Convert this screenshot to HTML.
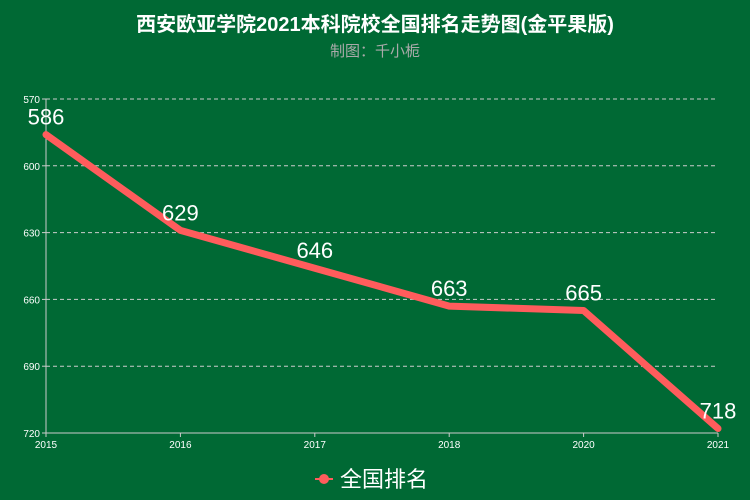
<!DOCTYPE html>
<html><head><meta charset="utf-8"><style>
body{margin:0;background:#006934;}
svg{display:block;font-family:"Liberation Sans","Noto Sans CJK SC",sans-serif;}
</style></head><body>
<svg id="chart" width="750" height="500">
<rect width="750" height="500" fill="#006934"/>
<text x="375" y="31" text-anchor="middle" fill="#fff" font-size="20" font-weight="bold">西安欧亚学院2021本科院校全国排名走势图(金平果版)</text>
<text x="375" y="56" text-anchor="middle" fill="#aaa" font-size="15">制图：千小栀</text>
<g id="grid"></g><g id="axes"></g><g id="series"></g>
<g>
<line x1="315" y1="479" x2="333" y2="479" stroke="#ff5c5c" stroke-width="2"/>
<circle cx="324" cy="479" r="5" fill="#ff5c5c"/>
<text x="340" y="487" fill="#fff" font-size="22">全国排名</text>
</g>
</svg>
<script>
const categories=["2015","2016","2017","2018","2020","2021"];
const ranks=[586,629,646,663,665,718];
const yTicks=[570,600,630,660,690,720];
const NS="http://www.w3.org/2000/svg";
const x0=46,x1=718,yTop=99,yBot=433,yMin=570,yMax=720;
function xs(i){return x0+i*(x1-x0)/(categories.length-1);}
function ys(v){return yTop+(v-yMin)*(yBot-yTop)/(yMax-yMin);}
function mk(t,a,p){const e=document.createElementNS(NS,t);for(const k in a)e.setAttribute(k,a[k]);p.appendChild(e);return e;}
const grid=document.getElementById('grid'),axes=document.getElementById('axes'),ser=document.getElementById('series');
yTicks.forEach(v=>{
 const y=ys(v);
 if(v!==yMax){const g=mk('line',{x1:x0,x2:x1,y1:y,y2:y,stroke:'#ccc','stroke-dasharray':'4,3','stroke-width':1},grid);
 
 }
 const tk=mk('line',{x1:x0-4,x2:x0,y1:y,y2:y,stroke:'#ccc'},axes);
 
 
 const t=mk('text',{x:x0-6,y:y+4,'text-anchor':'end',fill:'#fff','font-size':10},axes);t.textContent=v;
 
 
});
const ya=mk('line',{x1:x0,x2:x0,y1:yTop,y2:yBot,stroke:'#ccc'},axes);


const xa=mk('line',{x1:x0,x2:x1,y1:yBot,y2:yBot,stroke:'#ccc'},axes);


categories.forEach((c,i)=>{
 const x=xs(i);
 const tk=mk('line',{x1:x,x2:x,y1:yBot,y2:yBot+4,stroke:'#ccc'},axes);
 
 
 const t=mk('text',{x:x,y:yBot+15,'text-anchor':'middle',fill:'#fff','font-size':10},axes);t.textContent=c;
 
 
});
const pts=ranks.map((v,i)=>xs(i)+','+ys(v)).join(' ');
const line=mk('polyline',{points:pts,fill:'none',stroke:'#ff5c5c','stroke-width':7,'stroke-linejoin':'round','stroke-linecap':'round'},ser);


ranks.forEach((v,i)=>{
 const t=mk('text',{x:xs(i),y:ys(v)-10,'text-anchor':'middle',fill:'#fff','font-size':22},ser);t.textContent=v;
 
 
});
</script>
</body></html>
